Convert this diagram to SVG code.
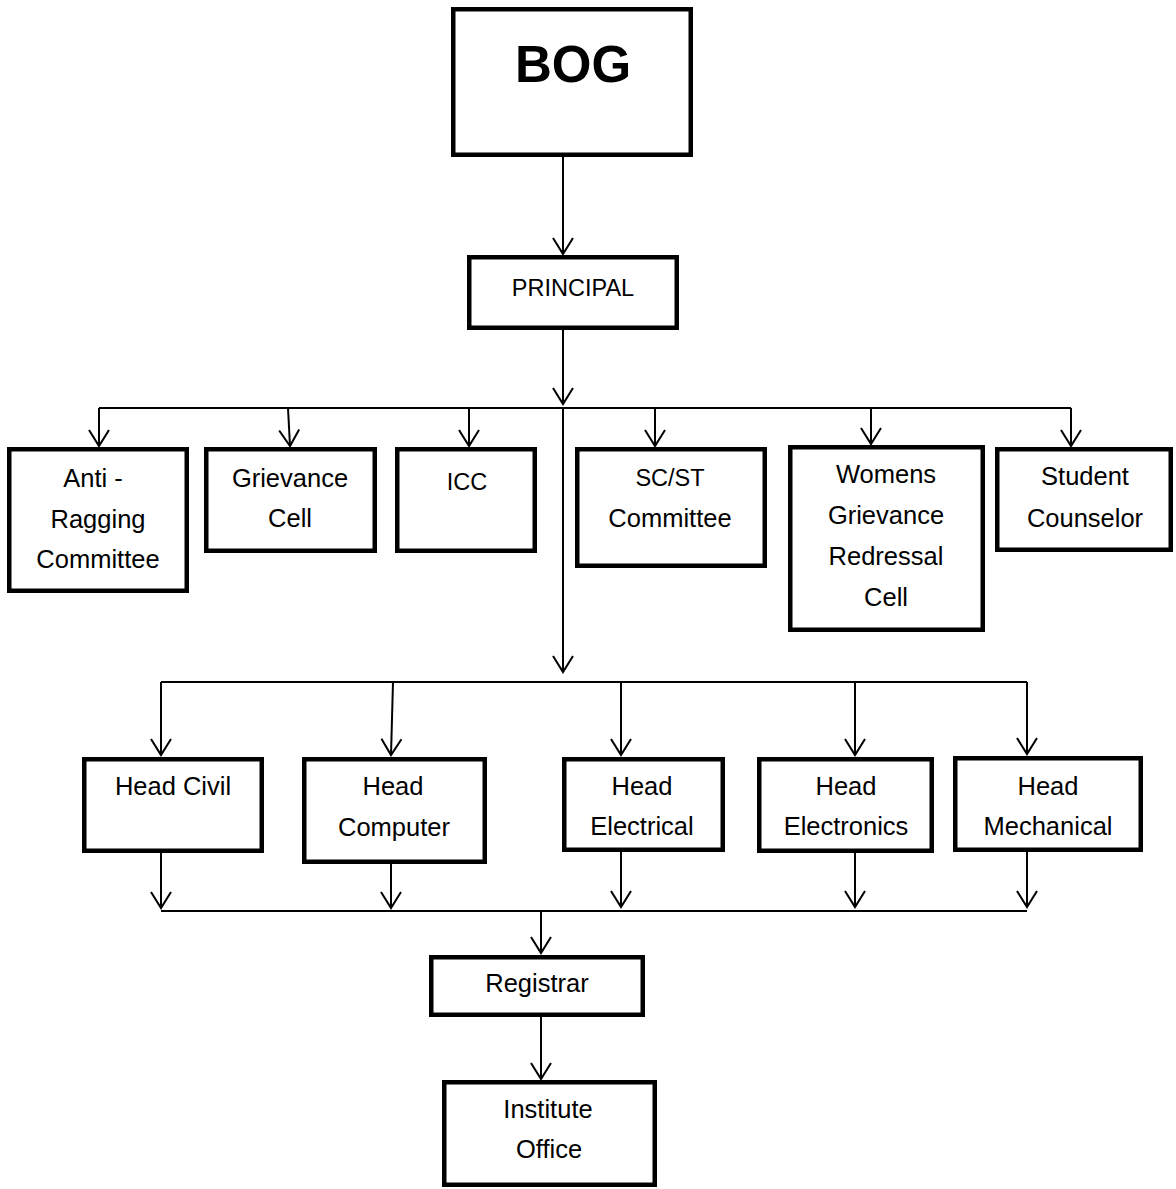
<svg xmlns="http://www.w3.org/2000/svg" width="1176" height="1189" viewBox="0 0 1176 1189">
<defs>
<style>
.box{fill:#fff;stroke:#000;stroke-width:4.5}
.t{font-family:"Liberation Sans",Arial,sans-serif;font-size:25.5px;fill:#000;text-anchor:middle}
.c{font-size:23.5px}
.b{font-weight:bold;font-size:51px}
.ln{stroke:#000;stroke-width:2;fill:none}
.ar{stroke:#000;stroke-width:2;fill:none;marker-end:url(#arr)}
</style>
<marker id="arr" markerUnits="userSpaceOnUse" markerWidth="20" markerHeight="24" refX="0" refY="0" orient="auto" overflow="visible">
<path d="M-16,-10 L0,0 L-16,10" fill="none" stroke="#000" stroke-width="2"/>
</marker>
</defs>
<rect width="1176" height="1189" fill="#fff"/>
<g id="connectors">
<line class="ar" x1="563" y1="157" x2="563" y2="254"/>
<line class="ar" x1="563" y1="330" x2="563" y2="404"/>
<line class="ln" x1="99" y1="408" x2="1071" y2="408"/>
<line class="ar" x1="99" y1="408" x2="99" y2="446"/>
<line class="ar" x1="288" y1="408" x2="290" y2="446"/>
<line class="ar" x1="469" y1="408" x2="469" y2="446"/>
<line class="ar" x1="655" y1="408" x2="655" y2="446"/>
<line class="ar" x1="871" y1="408" x2="871" y2="444"/>
<line class="ar" x1="1071" y1="408" x2="1071" y2="446"/>
<line class="ar" x1="563" y1="408" x2="563" y2="672"/>
<line class="ln" x1="161" y1="682" x2="1027" y2="682"/>
<line class="ar" x1="161" y1="682" x2="161" y2="755"/>
<line class="ar" x1="393" y1="682" x2="391" y2="755"/>
<line class="ar" x1="621" y1="682" x2="621" y2="755"/>
<line class="ar" x1="855" y1="682" x2="855" y2="755"/>
<line class="ar" x1="1027" y1="682" x2="1027" y2="754"/>
<line class="ar" x1="161" y1="853" x2="161" y2="908"/>
<line class="ar" x1="391" y1="864" x2="391" y2="908"/>
<line class="ar" x1="621" y1="852" x2="621" y2="907"/>
<line class="ar" x1="855" y1="853" x2="855" y2="907"/>
<line class="ar" x1="1027" y1="852" x2="1027" y2="907"/>
<line class="ln" x1="161" y1="911" x2="1027" y2="911"/>
<line class="ar" x1="541" y1="911" x2="541" y2="953"/>
<line class="ar" x1="541" y1="1017" x2="541" y2="1079"/>
</g>
<g id="bog"><rect class="box" x="453.25" y="9.25" width="237.5" height="145.5"/><text class="t b" x="573" y="82">BOG</text></g>
<g id="principal"><rect class="box" x="469.25" y="257.25" width="207.5" height="70.5"/><text class="t c" x="573" y="296">PRINCIPAL</text></g>
<g id="anti-ragging"><rect class="box" x="9.25" y="449.25" width="177.5" height="141.5"/><text class="t" x="93" y="487">Anti -</text><text class="t" x="98" y="528">Ragging</text><text class="t" x="98" y="568">Committee</text></g>
<g id="grievance-cell"><rect class="box" x="206.25" y="449.25" width="168.5" height="101.5"/><text class="t" x="290" y="487">Grievance</text><text class="t" x="290" y="527">Cell</text></g>
<g id="icc"><rect class="box" x="397.25" y="449.25" width="137.5" height="101.5"/><text class="t c" x="467" y="490">ICC</text></g>
<g id="scst"><rect class="box" x="577.25" y="449.25" width="187.5" height="116.5"/><text class="t c" x="670" y="486">SC/ST</text><text class="t" x="670" y="527">Committee</text></g>
<g id="womens"><rect class="box" x="790.25" y="447.25" width="192.5" height="182.5"/><text class="t" x="886" y="483">Womens</text><text class="t" x="886" y="524">Grievance</text><text class="t" x="886" y="565">Redressal</text><text class="t" x="886" y="606">Cell</text></g>
<g id="student-counselor"><rect class="box" x="997.25" y="449.25" width="173.5" height="100.5"/><text class="t" x="1085" y="485">Student</text><text class="t" x="1085" y="527">Counselor</text></g>
<g id="head-civil"><rect class="box" x="84.25" y="759.25" width="177.5" height="91.5"/><text class="t" x="173" y="795">Head Civil</text></g>
<g id="head-computer"><rect class="box" x="304.25" y="759.25" width="180.5" height="102.5"/><text class="t" x="393" y="795">Head</text><text class="t" x="394" y="836">Computer</text></g>
<g id="head-electrical"><rect class="box" x="564.25" y="759.25" width="158.5" height="90.5"/><text class="t" x="642" y="795">Head</text><text class="t" x="642" y="835">Electrical</text></g>
<g id="head-electronics"><rect class="box" x="759.25" y="759.25" width="172.5" height="91.5"/><text class="t" x="846" y="795">Head</text><text class="t" x="846" y="835">Electronics</text></g>
<g id="head-mechanical"><rect class="box" x="955.25" y="758.25" width="185.5" height="91.5"/><text class="t" x="1048" y="795">Head</text><text class="t" x="1048" y="835">Mechanical</text></g>
<g id="registrar"><rect class="box" x="431.25" y="957.25" width="211.5" height="57.5"/><text class="t" x="537" y="992">Registrar</text></g>
<g id="institute-office"><rect class="box" x="444.25" y="1082.25" width="210.5" height="102.5"/><text class="t" x="548" y="1118">Institute</text><text class="t" x="549" y="1158">Office</text></g>
</svg>
